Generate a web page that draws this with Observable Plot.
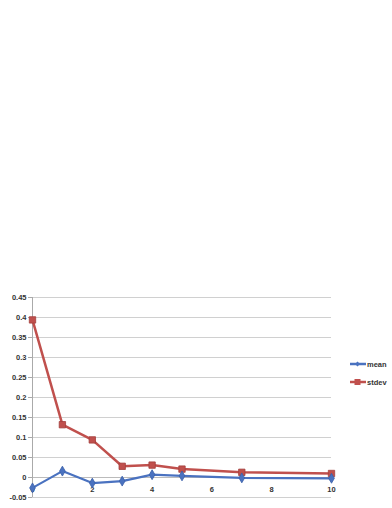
<!DOCTYPE html>
<html>
<head>
<meta charset="utf-8">
<script src="https://cdn.jsdelivr.net/npm/d3@7"></script>
<script src="https://cdn.jsdelivr.net/npm/@observablehq/plot@0.6"></script>
<style>
  html, body { margin: 0; padding: 0; background: #fff; }
  #wrap { position: relative; width: 392px; height: 508px; }
  .legend { position: absolute; left: 350px; font: bold 7.5px "Liberation Sans", Arial, sans-serif; color: #333; display: flex; align-items: center; }
  .legend svg { margin-right: 1px; }
</style>
</head>
<body>
<div id="wrap"></div>
<script>
const xs = [0, 1, 2, 3, 4, 5, 7, 10];
const meanValues = [-0.026, 0.016, -0.014, -0.009, 0.007, 0.004, -0.001, -0.002];
const stdevValues = [0.394, 0.132, 0.094, 0.028, 0.031, 0.021, 0.013, 0.010];
const seriesNames = ["mean", "stdev"];
const yTicks = [-0.05, 0, 0.05, 0.1, 0.15, 0.2, 0.25, 0.3, 0.35, 0.4, 0.45];
const xTicks = [0, 2, 4, 6, 8, 10];

const colors = {mean: "#4a72c0", stdev: "#c0504d"};
const strokes = {mean: "#3a5fa8", stdev: "#a33f3c"};

const meanData = xs.map((x, i) => ({x, y: meanValues[i], s: "mean"}));
const stdevData = xs.map((x, i) => ({x, y: stdevValues[i], s: "stdev"}));

const chart = Plot.plot({
  width: 392,
  height: 508,
  marginTop: 297,
  marginBottom: 11,
  marginLeft: 32,
  marginRight: 61,
  style: {fontFamily: "'Liberation Sans', Arial, sans-serif", fontSize: "7.5px", fontWeight: "bold", color: "#333", background: "white"},
  x: {domain: [0, 10], axis: null},
  y: {domain: [-0.05, 0.45]},
  marks: [
    Plot.ruleY(yTicks, {stroke: "#d0d0d0", strokeWidth: 1}),
    Plot.ruleY([0], {stroke: "#bbbbbb", strokeWidth: 1}),
    Plot.ruleX([0], {stroke: "#aaaaaa", strokeWidth: 1}),
    Plot.axisY({ticks: yTicks, tickSize: 4, tickPadding: 2, tickFormat: d => String(+d.toFixed(2)), label: null, stroke: "#aaa"}),
    Plot.text(xTicks, {x: d => d, y: 0, dy: 12, text: d => String(d), fill: "#333"}),
    Plot.line(stdevData, {x: "x", y: "y", stroke: colors.stdev, strokeWidth: 2.5}),
    Plot.line(meanData, {x: "x", y: "y", stroke: colors.mean, strokeWidth: 2.2}),
    Plot.dot(stdevData, {x: "x", y: "y", symbol: "square", r: 3.6, fill: colors.stdev, stroke: strokes.stdev, strokeWidth: 0.8}),
    Plot.dot(meanData, {x: "x", y: "y", symbol: "diamond", r: 3, fill: colors.mean, stroke: strokes.mean, strokeWidth: 0.8})
  ]
});
const wrap = document.getElementById("wrap");
wrap.appendChild(chart);

seriesNames.forEach((name, i) => {
  const div = document.createElement("div");
  div.className = "legend";
  div.style.top = (i === 0 ? 359 : 377) + "px";
  const sym = name === "mean"
    ? '<path d="M7.5 2.5 L10 5 L7.5 7.5 L5 5 Z" fill="' + colors.mean + '"/>'
    : '<rect x="4.5" y="2" width="6" height="6" fill="' + colors.stdev + '"/>';
  div.innerHTML = '<svg width="16" height="10"><line x1="0" y1="5" x2="16" y2="5" stroke="' + colors[name] + '" stroke-width="2.5"/>' + sym + '</svg><span>' + name + '</span>';
  wrap.appendChild(div);
});
</script>
</body>
</html>
